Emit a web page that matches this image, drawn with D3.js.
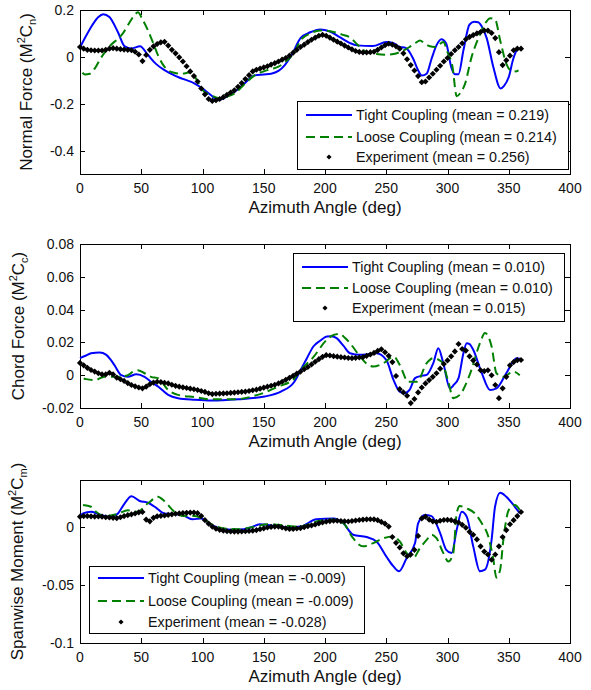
<!DOCTYPE html>
<html>
<head>
<meta charset="utf-8">
<script src="https://cdn.jsdelivr.net/npm/d3@7.9.0/dist/d3.min.js"></script>
<style>
  body { margin: 0; background: #fff; }
  svg { display: block; }
  text { font-family: "Liberation Sans", Arial, sans-serif; fill: #111; }
</style>
</head>
<body>
<svg id="chart" width="591" height="690"></svg>
<script>
// ---- data ----
const angleTicks = [0, 50, 100, 150, 200, 250, 300, 350, 400];
const normalTicks = [-0.4, -0.2, 0, 0.2];
const chordTicks = [-0.02, 0, 0.02, 0.04, 0.06, 0.08];
const momentTicks = [-0.1, -0.05, 0];

const seriesNames = ["Tight Coupling", "Loose Coupling", "Experiment"];
const normalMeans = ["0.219", "0.214", "0.256"];
const chordMeans = ["0.010", "0.010", "0.015"];
const momentMeans = ["-0.009", "-0.009", "-0.028"];

// model curves: [azimuth deg, value]
const tightNormal = [[0,0.04],[5,0.09],[10,0.135],[15,0.17],[19,0.182],[24,0.17],[31,0.105],[36.5,0.045],[42,0.036],[49,0.045],[55.5,0.008],[62,-0.03],[69,-0.057],[80,-0.086],[93.6,-0.114],[100,-0.135],[107,-0.164],[112.6,-0.185],[118,-0.175],[126,-0.15],[134,-0.115],[142.6,-0.079],[150,-0.075],[156,-0.072],[162,-0.06],[167,-0.036],[173,0.01],[180,0.08],[188,0.105],[196,0.117],[204,0.108],[212,0.084],[220,0.06],[226,0.049],[239,0.046],[250,0.063],[256,0.058],[261,0.042],[265,0.04],[268,0.028],[272,-0.008],[276,-0.057],[279,-0.08],[283,-0.072],[287,-0.008],[291,0.049],[295,0.075],[299,0.056],[303,-0.043],[306,-0.074],[309,-0.074],[313,0.028],[318,0.138],[322,0.15],[325,0.148],[328,0.13],[332,0.08],[337.4,-0.043],[343.4,-0.135],[346,-0.125],[350,-0.086],[353.7,-0.008],[356.5,0.028],[358,0.033]];
const looseNormal = [[2,-0.068],[4,-0.075],[8,-0.072],[12,-0.05],[17,-0.005],[21.5,0.028],[26,0.055],[31,0.077],[35,0.1],[39,0.134],[44,0.175],[47.3,0.19],[51,0.16],[55.5,0.113],[60,0.055],[63.7,0.006],[68,-0.035],[71.8,-0.057],[77,-0.068],[82.7,-0.072],[91,-0.065],[95,-0.095],[99,-0.135],[105,-0.16],[110,-0.171],[115,-0.178],[120,-0.17],[126,-0.157],[134,-0.118],[142.6,-0.079],[150,-0.062],[156,-0.052],[161.6,-0.043],[168,-0.02],[175,0.02],[180,0.07],[188,0.1],[196,0.113],[207,0.106],[214,0.095],[220,0.084],[227,0.05],[234,0.02],[242,0.012],[250,0.009],[256,0.012],[261,0.02],[269,0.042],[274,0.06],[277.5,0.07],[281,0.058],[285,0.046],[290,0.042],[296.6,0.063],[300,0.02],[304,-0.04],[307.5,-0.168],[311,-0.15],[314,-0.12],[319.7,0],[326.5,0.095],[331,0.145],[335,0.165],[338.8,0.16],[343,0.07],[348,-0.029],[352,-0.06],[356,-0.062],[358,-0.058]];
const tightChord = [[0,0.0104],[5,0.012],[9,0.0134],[16,0.0138],[21.5,0.0124],[25,0.0095],[28,0.0063],[33.7,0],[39,-0.001],[46,0.0006],[52.7,-0.001],[58,-0.004],[64,-0.007],[72,-0.012],[80,-0.014],[93.6,-0.015],[107,-0.0155],[129,-0.0147],[150.7,-0.013],[164,-0.01],[175,-0.004],[180,0.003],[185,0.01],[190.5,0.0175],[196,0.021],[201.4,0.0236],[205,0.0238],[209.5,0.0226],[215,0.018],[220.4,0.0134],[228.6,0.0124],[235,0.0128],[242,0.0134],[250,0.0093],[256,-0.003],[261,-0.01],[265,-0.011],[269,-0.009],[273.5,-0.0018],[278,-0.0005],[283,0.0002],[288.4,0.0073],[292.5,0.0165],[296.6,0.0073],[302,-0.008],[305,-0.006],[309,-0.0018],[313,0.0134],[315.7,0.0195],[318,0.019],[321,0.0155],[328,0.0012],[334.7,-0.009],[340,-0.008],[348,0.0012],[356.5,0.0104],[359,0.010]];
const looseChord = [[3,-0.002],[5,-0.0024],[12,-0.003],[20,-0.001],[31,-0.001],[39,0],[43,0.002],[47,0.003],[52.7,0.0012],[58,-0.001],[64,-0.002],[72,-0.009],[80,-0.012],[93.6,-0.0134],[107,-0.0147],[126,-0.0147],[145,-0.012],[161.6,-0.007],[175,-0.002],[180,0.003],[190.5,0.011],[201.4,0.0216],[207,0.0245],[212,0.0252],[216,0.023],[220.4,0.0195],[228.6,0.0114],[234,0.007],[239.4,0.0053],[247.6,0.0073],[256,0.0114],[261,0.0063],[268,-0.004],[275,-0.004],[283,0.0073],[288.4,0.0104],[295,0.0083],[300.7,-0.004],[304.7,-0.014],[310,-0.012],[318,0],[326.5,0.0195],[330.6,0.0257],[336,0.0175],[340,0.0012],[345.6,-0.001],[353.7,0.0022],[359,0]];
const tightMoment = [[0,0.009],[2.5,0.0113],[9,0.0128],[14.7,0.0108],[20,0.009],[25.6,0.0085],[31,0.0113],[36.5,0.02],[42,0.026],[48.7,0.022],[55.5,0.0205],[61,0.017],[69,0.0113],[77,0.0108],[85.4,0.009],[92,0.0062],[99,0.007],[107,0.0014],[118,-0.0023],[129,-0.0028],[140,-0.0006],[146.7,0.002],[153.5,0.0014],[161.6,0],[172.5,-0.0006],[180,0],[193,0.0062],[206.8,0.007],[215,0.0028],[223,-0.007],[234,-0.009],[242,-0.0128],[250,-0.0256],[255.7,-0.034],[260.4,-0.0384],[266.7,-0.027],[273.5,-0.0142],[276,0.0028],[281.6,0.01],[287,0.009],[294,-0.0057],[299,-0.02],[303.4,-0.0228],[307.5,-0.0028],[311.6,0.0128],[315.7,0.0085],[321,-0.017],[326.5,-0.0384],[330.6,-0.037],[336,-0.0114],[338.8,0.017],[343,0.029],[348,0.0256],[355,0.017],[359,0.0113]];
const looseMoment = [[2.5,0.0185],[9,0.017],[13,0.0128],[20,0.009],[31,0.011],[39,0.014],[47,0.0128],[55.5,0.02],[63.7,0.0256],[67.7,0.023],[71.8,0.0185],[77,0.0128],[85,0.009],[93.6,0.009],[101.7,0.0057],[110,0.0006],[118,-0.0017],[129,-0.0023],[142.6,0],[153.5,0.002],[164,0.0014],[175,0],[180,0],[193,0.0043],[206.8,0.006],[215,0.0028],[223,-0.01],[231,-0.017],[239.4,-0.0142],[247.6,-0.01],[255.7,-0.0085],[261,-0.0128],[266.7,-0.0228],[272,-0.027],[277.5,-0.0185],[283,-0.0114],[287,-0.007],[291,-0.01],[296.6,-0.0228],[300.7,-0.03],[304.7,-0.0228],[307.5,0.0113],[310,0.0176],[315.7,0.0156],[322.4,0.0113],[328,0.0028],[333.3,-0.0085],[337.4,-0.028],[340,-0.044],[343,-0.037],[345.6,-0.0114],[350,0.0142],[355,0.0185],[359,0.0142]];

// experiment samples every 3 deg, 0..360
const expAngles = d3.range(0, 361, 3);
const expNormal = [0.042,0.035,0.030,0.028,0.027,0.027,0.027,0.030,0.035,0.037,0.035,0.033,0.031,0.030,0.028,0.022,0.010,-0.018,0.008,0.030,0.045,0.055,0.062,0.064,0.048,0.030,0.015,-0.002,-0.020,-0.040,-0.062,-0.082,-0.105,-0.135,-0.160,-0.180,-0.188,-0.185,-0.180,-0.172,-0.162,-0.152,-0.143,-0.128,-0.112,-0.095,-0.078,-0.062,-0.055,-0.050,-0.045,-0.040,-0.033,-0.027,-0.020,-0.012,-0.005,0.005,0.018,0.030,0.042,0.052,0.063,0.073,0.082,0.090,0.094,0.090,0.082,0.073,0.065,0.057,0.048,0.040,0.032,0.025,0.021,0.019,0.019,0.020,0.022,0.030,0.040,0.050,0.056,0.052,0.045,0.035,0.015,-0.010,-0.035,-0.058,-0.082,-0.108,-0.105,-0.088,-0.072,-0.055,-0.038,-0.020,-0.005,0.012,0.028,0.042,0.058,0.075,0.085,0.093,0.100,0.106,0.112,0.112,0.102,0.080,0.020,-0.035,-0.015,0.005,0.028,0.035,0.035];
const expChord = [0.0075,0.0060,0.0045,0.0032,0.0022,0.0012,0.0005,0.0005,0.0015,0.0005,-0.0015,-0.0025,-0.0035,-0.0048,-0.0060,-0.0068,-0.0075,-0.0080,-0.0070,-0.0055,-0.0045,-0.0040,-0.0042,-0.0046,-0.0050,-0.0058,-0.0065,-0.0070,-0.0074,-0.0078,-0.0082,-0.0086,-0.0090,-0.0096,-0.0102,-0.0110,-0.0115,-0.0113,-0.0112,-0.0111,-0.0110,-0.0108,-0.0106,-0.0104,-0.0102,-0.0100,-0.0096,-0.0092,-0.0088,-0.0082,-0.0076,-0.0070,-0.0064,-0.0058,-0.0050,-0.0040,-0.0028,-0.0016,-0.0004,0.0010,0.0022,0.0036,0.0050,0.0066,0.0082,0.0098,0.0112,0.0122,0.0120,0.0116,0.0113,0.0110,0.0108,0.0105,0.0104,0.0106,0.0108,0.0110,0.0118,0.0126,0.0136,0.0148,0.0158,0.0140,0.0118,0.0080,-0.0005,-0.0085,-0.0105,-0.0125,-0.0170,-0.0145,-0.0105,-0.0075,-0.0050,-0.0030,-0.0010,0.0012,0.0040,0.0068,0.0090,0.0115,0.0145,0.0190,0.0160,0.0150,0.0115,0.0090,0.0065,0.0030,0.0025,0.0030,0.0000,-0.0060,-0.0140,-0.0080,-0.0010,0.0060,0.0080,0.0092,0.0093];
const expMoment = [0.0085,0.0090,0.0090,0.0088,0.0086,0.0088,0.0085,0.0080,0.0078,0.0075,0.0072,0.0080,0.0090,0.0098,0.0105,0.0112,0.0122,0.0125,0.0060,0.0045,0.0075,0.0088,0.0092,0.0095,0.0100,0.0105,0.0110,0.0113,0.0116,0.0118,0.0120,0.0120,0.0115,0.0090,0.0055,0.0025,0.0000,-0.0018,-0.0028,-0.0035,-0.0040,-0.0042,-0.0043,-0.0043,-0.0042,-0.0040,-0.0038,-0.0035,-0.0030,-0.0022,-0.0015,-0.0008,-0.0003,0.0000,0.0000,-0.0008,-0.0015,-0.0020,-0.0020,-0.0017,-0.0013,-0.0005,0.0003,0.0010,0.0018,0.0028,0.0036,0.0043,0.0047,0.0050,0.0050,0.0047,0.0045,0.0044,0.0048,0.0052,0.0056,0.0060,0.0062,0.0063,0.0062,0.0055,0.0040,0.0025,0.0000,-0.0090,-0.0140,-0.0180,-0.0230,-0.0255,-0.0240,-0.0200,-0.0080,0.0070,0.0085,0.0060,0.0045,0.0040,0.0050,0.0056,0.0058,0.0055,0.0045,0.0035,0.0015,-0.0010,-0.0045,-0.0070,-0.0110,-0.0170,-0.0215,-0.0240,-0.0285,-0.0240,-0.0170,-0.0090,-0.0030,0.0020,0.0055,0.0090,0.0125];

// ---- layout ----
const svg = d3.select("#chart");
const x = d3.scaleLinear().domain([0, 400]).range([80, 570]);

const panels = [
  { top: 10, bottom: 174, domain: [-0.5, 0.2], ticks: normalTicks, sym: "n", name: "Normal Force",
    labelX: 32, tight: tightNormal, loose: looseNormal, exp: expNormal, means: normalMeans,
    legend: { x: 297, y: 101, w: 271, h: 68, rows: [14, 36, 56] } },
  { top: 244, bottom: 408, domain: [-0.02, 0.08], ticks: chordTicks, sym: "c", name: "Chord Force",
    labelX: 24, tight: tightChord, loose: looseChord, exp: expChord, means: chordMeans,
    legend: { x: 293, y: 253, w: 271, h: 68, rows: [14, 35, 55] } },
  { top: 480, bottom: 643, domain: [-0.1, 0.04], ticks: momentTicks, sym: "m", name: "Spanwise Moment",
    labelX: 23, tight: tightMoment, loose: looseMoment, exp: expMoment, means: momentMeans,
    legend: { x: 89, y: 566, w: 275, h: 67, rows: [12, 35, 56] } }
];

const diamond = d3.symbol().type(d3.symbolDiamond2).size(24);
const legendDiamond = d3.symbol().type(d3.symbolDiamond2).size(17);
const fmt = d => d === 0 ? "0" : String(d);

panels.forEach(p => {
  const y = d3.scaleLinear().domain(p.domain).range([p.bottom, p.top]);
  const g = svg.append("g");

  // frame
  g.append("rect")
    .attr("x", x(0) + 0.5).attr("y", p.top + 0.5)
    .attr("width", x(400) - x(0)).attr("height", p.bottom - p.top)
    .attr("fill", "#fff").attr("stroke", "#000").attr("stroke-width", 1);

  // x ticks (inside, mirrored)
  angleTicks.forEach(t => {
    const px = Math.round(x(t)) + 0.5;
    g.append("line").attr("x1", px).attr("x2", px).attr("y1", p.bottom).attr("y2", p.bottom - 5).attr("stroke", "#000");
    g.append("line").attr("x1", px).attr("x2", px).attr("y1", p.top).attr("y2", p.top + 5).attr("stroke", "#000");
    g.append("text").attr("x", x(t)).attr("y", p.bottom + 19)
      .attr("text-anchor", "middle").attr("font-size", "14px").text(t);
  });

  // y ticks
  p.ticks.forEach(t => {
    const py = Math.round(y(t)) + 0.5;
    g.append("line").attr("x1", x(0)).attr("x2", x(0) + 5).attr("y1", py).attr("y2", py).attr("stroke", "#000");
    g.append("line").attr("x1", x(400)).attr("x2", x(400) - 5).attr("y1", py).attr("y2", py).attr("stroke", "#000");
    g.append("text").attr("x", 74).attr("y", y(t) + 5)
      .attr("text-anchor", "end").attr("font-size", "14px").text(fmt(t));
  });

  // axis titles
  g.append("text").attr("x", (x(0) + x(400)) / 2).attr("y", p.bottom + 39)
    .attr("text-anchor", "middle").attr("font-size", "17px").text("Azimuth Angle (deg)");

  const yl = g.append("text")
    .attr("transform", `translate(${p.labelX},${(p.top + p.bottom) / 2}) rotate(-90)`)
    .attr("text-anchor", "middle").attr("font-size", "17px");
  yl.append("tspan").text(p.name + " (M");
  yl.append("tspan").attr("font-size", "11px").attr("dy", -7).text("2");
  yl.append("tspan").attr("dy", 7).text("C");
  yl.append("tspan").attr("font-size", "11px").attr("dy", 4).text(p.sym);
  yl.append("tspan").attr("dy", -4).text(")");

  // model lines
  const line = d3.line().x(d => x(d[0])).y(d => y(d[1])).curve(d3.curveMonotoneX);
  g.append("path").datum(p.tight).attr("d", line)
    .attr("fill", "none").attr("stroke", "#0000ff").attr("stroke-width", 2);
  g.append("path").datum(p.loose).attr("d", line)
    .attr("fill", "none").attr("stroke", "#008000").attr("stroke-width", 2)
    .attr("stroke-dasharray", "9,5");

  // experiment markers
  g.selectAll("path.exp").data(p.exp).enter().append("path")
    .attr("class", "exp")
    .attr("transform", (d, i) => `translate(${x(expAngles[i])},${y(d)})`)
    .attr("d", diamond).attr("fill", "#000");

  // legend
  const L = p.legend;
  const lg = g.append("g").attr("transform", `translate(${L.x},${L.y})`);
  lg.append("rect").attr("x", 0.5).attr("y", 0.5).attr("width", L.w).attr("height", L.h)
    .attr("fill", "#fff").attr("stroke", "#000");
  lg.append("line").attr("x1", 9).attr("x2", 55).attr("y1", L.rows[0]).attr("y2", L.rows[0])
    .attr("stroke", "#0000ff").attr("stroke-width", 2);
  lg.append("line").attr("x1", 9).attr("x2", 55).attr("y1", L.rows[1]).attr("y2", L.rows[1])
    .attr("stroke", "#008000").attr("stroke-width", 2).attr("stroke-dasharray", "9,5");
  lg.append("path").attr("transform", `translate(32,${L.rows[2]})`).attr("d", legendDiamond).attr("fill", "#000");
  seriesNames.forEach((s, i) => {
    lg.append("text").attr("x", 59).attr("y", L.rows[i] + 5)
      .attr("font-size", "14.3px").text(`${s} (mean = ${p.means[i]})`);
  });
});
</script>
</body>
</html>
